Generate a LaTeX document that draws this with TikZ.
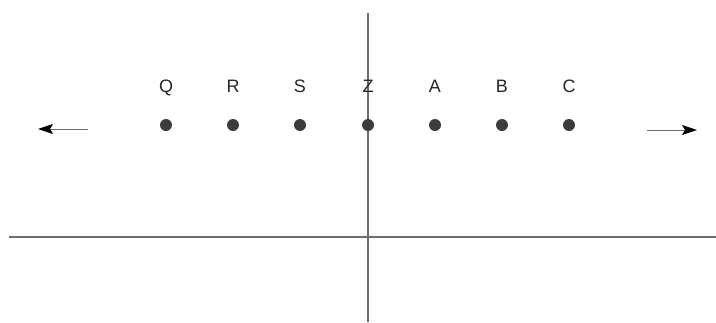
\documentclass[tikz,border=0pt]{standalone}
\usepackage{fontspec}
\setmainfont{Liberation Sans}
\usetikzlibrary{arrows.meta}
\definecolor{axisgray}{HTML}{6E6E6E}
\definecolor{dotgray}{HTML}{3C3C3C}
\begin{document}
\begin{tikzpicture}[x=1pt,y=-1pt,
  axisline/.style={draw=axisgray,line width=1.3pt},
  ptdot/.style={circle,fill=dotgray,inner sep=0pt,minimum size=12pt},
  ptlabel/.style={font=\fontsize{18}{20}\selectfont,text=black!85,anchor=base,inner sep=0pt},
  dirarrow/.style={draw=axisgray,line width=1pt,-{Stealth[length=15pt,width=10pt,inset=3pt,color=black]}}]
\useasboundingbox (0,0) rectangle (716,322);
\coordinate (vt) at (368,13);
\coordinate (vb) at (368,322);
\coordinate (hl) at (9,237);
\coordinate (hr) at (716,237);
\draw[axisline] (vt) -- (vb);
\draw[axisline] (hl) -- (hr);
\foreach \n/\x in {Q/166,R/233,S/300,Z/368,A/435,B/502,C/569}{
  \node[ptdot] (d\n) at (\x,125) {};
  \node[ptlabel] (l\n) at (\x,92) {\n};
}
\coordinate (la1) at (88,129);
\coordinate (la2) at (38,129);
\coordinate (ra1) at (647,130);
\coordinate (ra2) at (697,130);
\draw[dirarrow] (la1) -- (la2);
\draw[dirarrow] (ra1) -- (ra2);
\end{tikzpicture}
\end{document}
